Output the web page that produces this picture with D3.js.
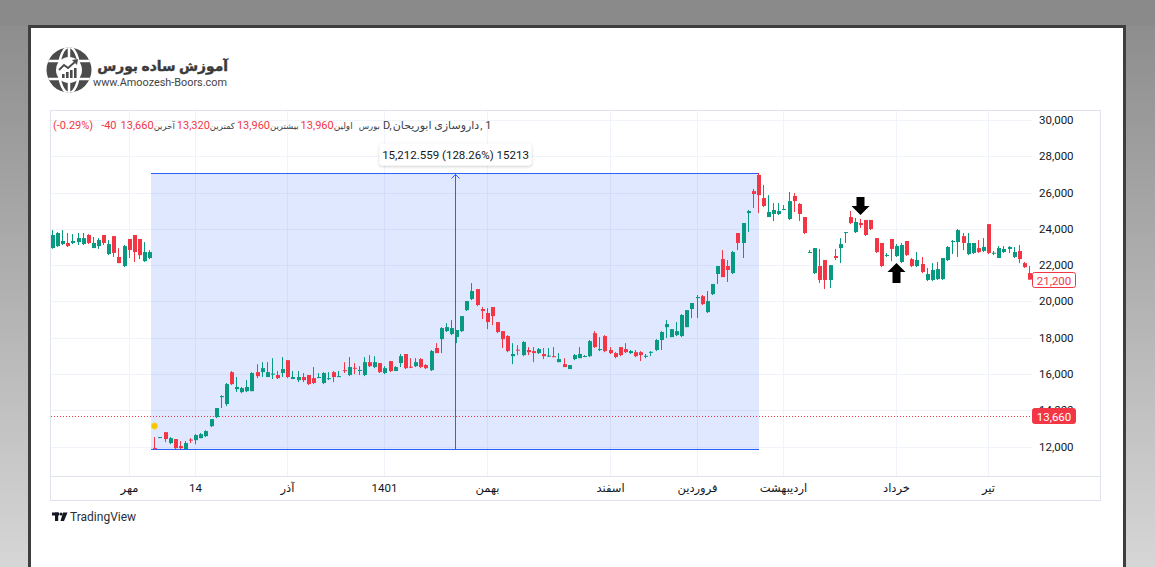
<!DOCTYPE html>
<html><head><meta charset="utf-8">
<script src="https://cdn.jsdelivr.net/npm/d3@7"></script>
<style>
html,body{margin:0;padding:0;width:1155px;height:567px;overflow:hidden;background:#8b8b8b;}
svg{display:block}
text{font-family:Roboto,"DejaVu Sans",sans-serif;}
</style></head><body>
<svg id="c" width="1155" height="567"></svg>
<script>
// ---------------- DATA ----------------
const opens = [22940,23050,23160,23220,23220,23270,23160,23660,22940,23050,
 23660,22610,23600,22450,21950,23440,23660,23440,22220,22390,
 11910,12490,12790,12190,12410,12020,11861,12380,12350,12460,
 12570,13120,13620,14720,14340,16100,15160,15000,15050,15050,
 16100,16100,15830,15960,15940,16050,16760,15720,15660,15830,
 15940,15770,15800,15500,15720,16100,15860,16210,15940,16340,
 16190,15940,16650,16380,16600,16050,16710,16160,16600,17100,
 16400,16430,16820,16490,16210,17430,17920,18360,18200,18030,
 18360,19520,20130,20680,19580,19360,19690,18860,18360,18090,
 16980,17340,17040,17320,17260,17150,17100,16980,16980,16650,
 16540,16270,16820,16870,16970,16980,18250,17320,18090,17320,
 17150,17480,17370,17150,17200,17200,16970,17190,17320,17870,
 18580,18030,18140,18090,18580,19580,20180,20290,19410,20400,
 21510,22330,21950,21560,23770,23220,24870,26080,26970,25700,
 24650,24820,24820,25070,24540,25810,25370,24650,22700,21560,
 21950,22280,21180,22500,22940,23800,24650,23820,24320,24490,
 24490,23490,23220,22530,23440,22500,22170,23330,22330,21950,
 22060,21180,21180,21230,21230,22280,23300,23270,23600,22610,
 22670,22940,22780,24260,22650,22390,22720,22890,22450,22780,
 22110,21560];
const highs = [23930,23820,23930,23770,23710,23770,23770,23710,23550,23490,
 23660,23380,23600,22940,23110,23440,23660,23440,23270,22830,
 12520,12520,12790,12520,12410,12300,12300,12460,12680,12740,
 12900,13510,14120,14830,15500,16160,15830,15280,15660,16100,
 16540,16650,16650,16870,16160,16930,16760,16160,16160,16050,
 15940,16380,16050,16100,16100,16160,16160,16650,16930,16600,
 16430,16930,17040,16980,16600,16430,16710,16430,17100,17100,
 16870,16870,16870,16540,17320,17700,18580,18800,18970,18420,
 19190,20020,21010,20680,19690,19630,19690,18860,18360,18140,
 17700,17590,17810,17480,17480,17430,17430,17430,17480,17150,
 16870,16490,17100,17480,17040,17870,18360,18030,18140,17480,
 17200,17480,17700,17320,17320,17260,17100,17260,17920,18360,
 18970,18470,18860,19300,19520,19910,20350,20350,20570,20960,
 21950,22830,22280,22780,23770,24320,25040,26200,27073,26420,
 25860,25420,25420,25310,26030,25970,25420,24650,22830,22940,
 22890,22280,22000,22890,23490,23820,24980,24600,24540,24490,
 24490,23490,23220,22670,23440,23160,23220,23330,22390,22720,
 22450,21840,22110,22170,22390,23050,23380,23990,23770,23770,
 23220,23380,23490,24260,22780,23050,23050,23050,23000,23110,
 22170,21950];
const lows = [22900,23000,23110,23000,23160,23110,23110,23160,22940,22890,
 23110,22550,22450,22110,21890,22390,22170,22330,22170,22330,
 11861,12460,12240,12130,11861,11861,11861,12190,12130,12460,
 12520,13070,13570,14120,14230,15390,15000,14940,15000,15050,
 15770,15830,15830,15720,15720,15830,15770,15720,15550,15550,
 15390,15440,15770,15440,15660,15550,15830,16050,15880,15990,
 15940,15880,16380,16320,16050,15990,16100,16160,16380,16270,
 16320,16380,16320,16270,16160,17150,17150,18310,18140,17700,
 18310,19470,20070,19740,19030,18470,18690,18250,17430,17200,
 16540,17040,16980,17040,16650,17100,16820,16930,16930,16650,
 16380,16270,16760,16870,16930,16930,17430,17260,17200,17100,
 16870,16980,17150,17100,16930,16710,16870,16980,17260,17320,
 17980,18030,18090,18030,18580,19080,19080,19800,19360,20350,
 20960,21340,21070,21510,22830,22390,23820,25150,24870,25200,
 24650,24430,24760,25040,24490,24930,24430,23710,22670,21510,
 21010,20680,20740,22280,22110,23220,24260,23770,24040,23600,
 23930,22670,21890,22450,22220,22450,22110,22500,21890,21890,
 21560,21120,21120,21180,21180,22220,22610,22450,22830,22550,
 22610,22670,22720,22610,22550,22390,22670,22670,22390,22110,
 21840,21200];
const closes = [23660,23770,23330,23050,23330,23490,23490,23220,23220,23380,
 23220,23160,22670,22110,23050,22830,22720,22550,22720,22720,
 11861,12520,12410,12460,11910,11910,12190,12330,12630,12680,
 12850,13510,14120,14780,15440,15440,15280,15220,15280,16050,
 15880,16320,16100,16020,15770,16270,15830,15830,15830,15660,
 15440,15500,15830,16050,15770,15830,15880,16160,16380,16300,
 16220,16650,16430,16650,16100,16320,16160,16380,16980,16320,
 16360,16650,16380,16320,17260,17150,18530,18580,18530,18420,
 19190,20020,20570,19800,19470,18860,19190,18310,17920,17260,
 17100,17290,17760,17200,17150,17370,16980,17010,16930,16820,
 16380,16490,17040,17100,16990,17810,17480,17370,17260,17150,
 16930,17040,17200,17260,16980,17040,17000,17220,17870,18310,
 18750,18470,18360,19250,19520,19910,20240,19850,20020,20960,
 21950,21340,21730,22720,23220,24320,24980,25920,25860,25260,
 24930,25040,24980,25090,25530,25530,24820,23770,22720,22940,
 21180,21180,22000,22390,23160,23820,24320,24380,24210,23660,
 23990,22720,21950,22560,22890,23050,23110,22560,21950,22280,
 21620,21510,21730,21780,22390,23000,23330,23930,23220,23220,
 23220,22720,23000,22670,22680,22940,22890,23000,22720,22330,
 21890,21200];

const priceTicks = [12000,14000,16000,18000,20000,22000,24000,26000,28000,30000];
const timeTickLabels = ["مهر","14","آذر","1401","بهمن","اسفند","فروردین","اردیبهشت","خرداد","تیر"];
const timeTickIndex  = [15,28,46,65,85,109,126,143,165,183];

const lastPrice = 21200;      // series last value label
const headerLast = 13660;     // dotted line / red label
const measure = {startIndex:20, endIndex:138, low:11861, high:27073, label:"15,212.559 (128.26%) 15213"};
const markerIndex = 20;       // yellow event dot
const arrows = [{index:158, dir:"down"},{index:165, dir:"up"}];

// legend pieces in visual (left-to-right) order: text, kind
const headerItems = [
  ["(-0.29%)","v"],["-40","v"],["13,660","v"],["آخرین","l"],["13,320","v"],["کمترین","l"],
  ["13,960","v"],["بیشترین","l"],["13,960","v"],["اولین","l"],["بورس","l"],["D,","l"],
  ["داروسازی ابوریحان","l"],[", 1","l"]
];

// ---------------- DRAW ----------------
const UP="#089981", DOWN="#f23645";
const svg = d3.select("#c");
const defs = svg.append("defs");
const bg = defs.append("linearGradient").attr("id","bg").attr("x1",0).attr("y1",0).attr("x2",0).attr("y2",1);
bg.append("stop").attr("offset","0%").attr("stop-color","#8a8a8a");
bg.append("stop").attr("offset","100%").attr("stop-color","#d6d6d6");
const sh = defs.append("filter").attr("id","sh").attr("x","-20%").attr("y","-50%").attr("width","140%").attr("height","200%");
sh.append("feDropShadow").attr("dx",0).attr("dy",1).attr("stdDeviation",1.5).attr("flood-color","#000").attr("flood-opacity",0.22);

svg.append("rect").attr("width",1155).attr("height",567).attr("fill","url(#bg)");
svg.append("rect").attr("x",0).attr("y",0).attr("width",1155).attr("height",26).attr("fill","#8a8a8a");
// card
svg.append("rect").attr("x",29.5).attr("y",26.5).attr("width",1095).attr("height",560)
  .attr("fill","#ffffff").attr("stroke","#3e3e3e").attr("stroke-width",3);

// logo
const lg = svg.append("g").attr("transform","translate(69,70)");
defs.append("clipPath").attr("id","globe").append("circle").attr("r",22.5);
lg.append("circle").attr("r",22.5).attr("fill","#4b4b4b");
const gl = lg.append("g").attr("clip-path","url(#globe)");
gl.append("line").attr("x1",-25).attr("x2",25).attr("y1",-9).attr("y2",-9).attr("stroke","#fff").attr("stroke-width",2.5);
gl.append("line").attr("x1",-25).attr("x2",25).attr("y1",9).attr("y2",9).attr("stroke","#fff").attr("stroke-width",2.5);
gl.append("ellipse").attr("rx",10).attr("ry",23).attr("fill","none").attr("stroke","#fff").attr("stroke-width",2.5);
gl.append("line").attr("x1",0).attr("x2",0).attr("y1",-25).attr("y2",25).attr("stroke","#fff").attr("stroke-width",2.5);
lg.append("circle").attr("r",13).attr("fill","#fff");
[[-7,4],[-3,6],[1,8],[5,10]].forEach(([bx,bh])=>lg.append("rect").attr("x",bx).attr("y",8-bh).attr("width",2.6).attr("height",bh).attr("fill","#4b4b4b"));
lg.append("polyline").attr("points","-10,0 -5,-5 -1,-2 7,-9").attr("fill","none").attr("stroke","#4b4b4b").attr("stroke-width",1.8);
lg.append("polygon").attr("points","9,-11 3,-10 8,-5").attr("fill","#4b4b4b");
const lt = svg.append("text").attr("x",228).attr("y",71).attr("text-anchor","end")
  .attr("font-family","'DejaVu Sans',sans-serif").attr("font-weight","bold").attr("font-size",21).attr("fill","#3a3a3a")
  .attr("stroke","#3a3a3a").attr("stroke-width",0.4)
  .text("آموزش ساده بورس");
const lt2 = svg.append("text").attr("x",227).attr("y",86).attr("text-anchor","end")
  .attr("font-size",10).attr("fill","#444").text("www.Amoozesh-Boors.com");
function fit(sel,w){const n=sel.node();const cw=n.getComputedTextLength();const fs=+sel.attr("font-size");sel.attr("font-size",fs*w/cw);}
fit(lt,131); fit(lt2,134);

// chart frame
const L=51, R=1032, T=111, B=476;
svg.append("rect").attr("x",50.5).attr("y",110.5).attr("width",1050).attr("height",390)
  .attr("fill","#fff").attr("stroke","#e0e3eb");

const x = d3.scaleLinear().domain([0, opens.length-1]).range([53,1030]);
const y = d3.scaleLinear().domain([12000,30000]).range([446.5,120]);
const px = v => Math.round(v)+0.5;

// grid
svg.append("g").selectAll("line").data(priceTicks).join("line")
  .attr("x1",L).attr("x2",R).attr("y1",d=>px(y(d))).attr("y2",d=>px(y(d)))
  .attr("stroke","#f0f3fa");
svg.append("g").selectAll("line").data(timeTickIndex).join("line")
  .attr("x1",d=>Math.round(x(d))-0.5).attr("x2",d=>Math.round(x(d))-0.5).attr("y1",T).attr("y2",B)
  .attr("stroke","#f0f3fa");
svg.append("line").attr("x1",L).attr("x2",1100).attr("y1",B+0.5).attr("y2",B+0.5).attr("stroke","#e0e3eb");

// measurement box
const mL = Math.round(x(measure.startIndex)-4), mR = Math.round(x(measure.endIndex));
const mT = px(y(measure.high)), mB = px(y(measure.low));
svg.append("rect").attr("x",mL).attr("y",mT).attr("width",mR-mL).attr("height",mB-mT)
  .attr("fill","rgba(41,98,255,0.15)");
svg.append("line").attr("x1",mL).attr("x2",mR).attr("y1",mT).attr("y2",mT).attr("stroke","#2962ff");
svg.append("line").attr("x1",mL).attr("x2",mR).attr("y1",mB).attr("y2",mB).attr("stroke","#2962ff");
const mX = Math.round((mL+mR)/2)+0.5;
svg.append("line").attr("x1",mX).attr("x2",mX).attr("y1",mB).attr("y2",mT).attr("stroke","#2962ff");
svg.append("polyline").attr("points",`${mX-4},${mT+5} ${mX},${mT+1} ${mX+4},${mT+5}`).attr("fill","none").attr("stroke","#2962ff");

// dotted last line
svg.append("line").attr("x1",L).attr("x2",R).attr("y1",px(y(headerLast))).attr("y2",px(y(headerLast)))
  .attr("stroke",DOWN).attr("stroke-dasharray","1,2");

// candles
const data = opens.map((o,i)=>({i,o,h:highs[i],l:lows[i],c:closes[i]}));
const cg = svg.append("g");
data.forEach(d=>{
  const cx = Math.round(x(d.i));
  const col = d.c>=d.o?UP:DOWN;
  cg.append("rect").attr("x",cx-1).attr("width",1).attr("y",y(d.h)).attr("height",Math.max(1,y(d.l)-y(d.h))).attr("fill",col);
  const top = y(Math.max(d.o,d.c)), bot=y(Math.min(d.o,d.c));
  cg.append("rect").attr("x",cx-2).attr("width",4).attr("y",top).attr("height",Math.max(1,bot-top)).attr("fill",col);
});

// yellow event marker
svg.append("circle").attr("cx",Math.round(x(markerIndex))-0.5).attr("cy",y(highs[markerIndex])-11).attr("r",3.2)
  .attr("fill","#f7c600").attr("stroke","#f0d860").attr("stroke-width",1);

// measurement label
const lbW=152, lbH=22;
svg.append("rect").attr("x",mX-lbW/2).attr("y",mT-30).attr("width",lbW).attr("height",lbH).attr("rx",3)
  .attr("fill","#fff").attr("filter","url(#sh)");
svg.append("text").attr("x",mX).attr("y",mT-15).attr("text-anchor","middle").attr("font-size",11.5).attr("fill","#131722")
  .text(measure.label);

// arrows
arrows.forEach(a=>{
  const cx = Math.round(x(a.index))-0.5;
  let pts;
  if(a.dir==="down"){
    const tip = y(highs[a.index])-4;
    pts=[[cx-4,tip-18],[cx+4,tip-18],[cx+4,tip-9],[cx+9,tip-9],[cx,tip],[cx-9,tip-9],[cx-4,tip-9]];
  } else {
    const tip = y(lows[a.index])+6;
    pts=[[cx,tip],[cx+9,tip+9],[cx+4,tip+9],[cx+4,tip+20],[cx-4,tip+20],[cx-4,tip+9],[cx-9,tip+9]];
  }
  svg.append("polygon").attr("points",pts.map(p=>p.join(",")).join(" ")).attr("fill","#000");
});

// price axis labels (14,000 is partly covered by the 13,660 badge, as in the original)
svg.append("g").selectAll("text").data(priceTicks).join("text")
  .attr("x",1039).attr("y",d=>y(d)+4).attr("font-size",11.5).attr("fill","#131722")
  .text(d=>d3.format(",")(d));
function priceBox(v, filled){
  const yy = Math.round(y(v));
  svg.append("rect").attr("x",1032.5).attr("y",yy-7.5).attr("width",43).attr("height",15).attr("rx",2)
    .attr("fill",filled?DOWN:"#fff").attr("stroke",DOWN);
  svg.append("text").attr("x",1054).attr("y",yy+4.5).attr("text-anchor","middle").attr("font-size",11.5)
    .attr("fill",filled?"#fff":DOWN).text(d3.format(",")(v));
}
priceBox(lastPrice,false);
priceBox(headerLast,true);

// header legend: laid out left to right, each piece after the previous one
const gaps = [8,4,0,2,0,2,0,2,0,6,3,1,1,0];
const arWidth = {"آخرین":20,"کمترین":23,"بیشترین":27,"اولین":19,"بورس":17,"داروسازی ابوریحان":90};
let hx = 53;
headerItems.forEach((it,k)=>{
  const t = svg.append("text").attr("x",hx).attr("y",129).attr("font-size",11)
    .attr("fill",it[1]==="v"?DOWN:"#3b3f4a").text(it[0]);
  if(arWidth[it[0]]){
    const cw = t.node().getComputedTextLength();
    const fs = Math.max(8.5, Math.min(11, 11*arWidth[it[0]]/cw));
    t.attr("font-size",fs);
  }
  hx += t.node().getComputedTextLength() + gaps[k];
});

// time labels
svg.append("g").selectAll("text").data(timeTickIndex).join("text")
  .attr("x",d=>Math.round(x(d))-0.5).attr("y",492).attr("text-anchor","middle").attr("font-size",11.5).attr("fill","#131722")
  .text((d,k)=>timeTickLabels[k]);

// TradingView logo
const tv = svg.append("g").attr("fill","#131722");
tv.append("rect").attr("x",52).attr("y",512.5).attr("width",7).attr("height",3);
tv.append("rect").attr("x",55).attr("y",512.5).attr("width",3.2).attr("height",8.5);
tv.append("circle").attr("cx",61).attr("cy",514).attr("r",1.6);
tv.append("polygon").attr("points","63,512.5 67.5,512.5 64,521 60.5,521");
svg.append("text").attr("x",70).attr("y",520.5).attr("font-size",12).attr("fill","#2a2e39").text("TradingView");
</script>
</body></html>
